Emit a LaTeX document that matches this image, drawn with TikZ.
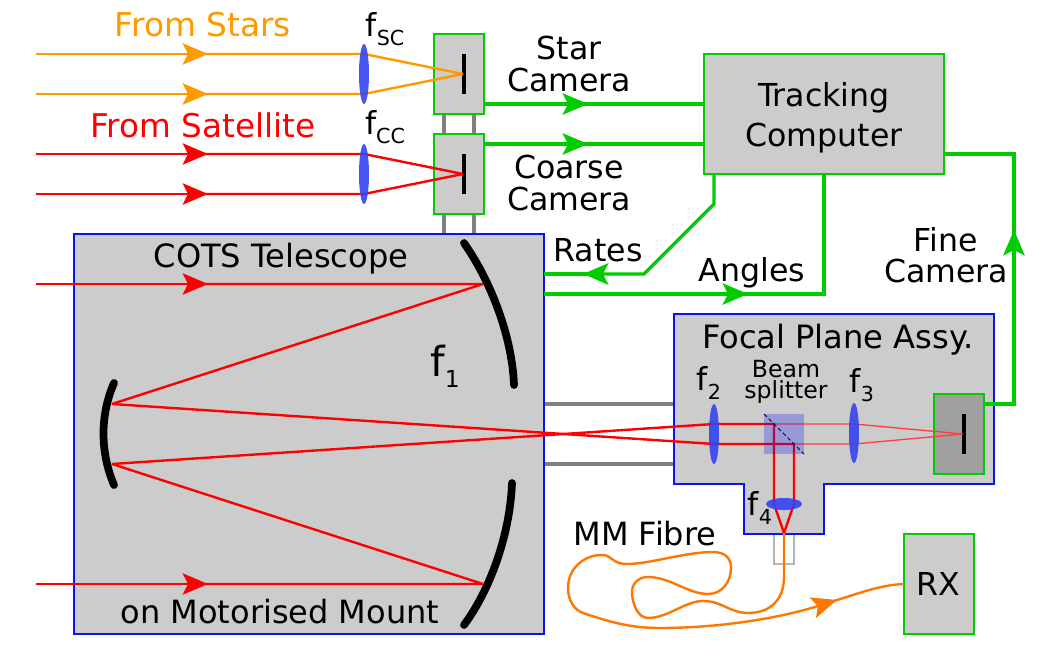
\documentclass[tikz,border=0pt]{standalone}
\usepackage{fontspec}
\setmainfont{DejaVu Sans}
\usetikzlibrary{arrows.meta}
\definecolor{gbox}{HTML}{CCCCCC}
\definecolor{gdark}{HTML}{A0A0A0}
\definecolor{gbar}{HTML}{808080}
\definecolor{grn}{HTML}{00CC00}
\definecolor{blu}{HTML}{0A14F0}
\definecolor{lensc}{HTML}{3344EE}
\definecolor{org}{HTML}{FF9900}
\definecolor{fib}{HTML}{FF7700}
\newcommand{\fsub}[1]{f\raisebox{-0.27em}{\fontsize{15.5}{15.5}\selectfont #1}}
\tikzset{
  greenbox/.style={draw=grn,fill=gbox,line width=1.9pt,inner sep=0pt,outer sep=0pt},
  bluebox/.style={draw=blu,fill=gbox,line width=1.9pt,inner sep=0pt,outer sep=0pt},
  bar/.style={gbar,line width=3pt},
  ray/.style={line width=1.8pt},
  thinray/.style={red!75,line width=1pt},
  tipp/.style={-{Stealth[length=19pt,width=16pt,inset=4pt]}},
  gline/.style={grn,line width=2.4pt,line join=miter},
  mirror/.style={black,line width=5.8pt,line cap=round},
  detector/.style={black,line width=2.6pt},
  lens/.style={fill=lensc,opacity=0.9,draw=none},
  lab/.style={font=\fontsize{23.7}{23.3}\selectfont,align=center,inner sep=0pt,text=black},
}
\begin{document}
\begin{tikzpicture}[x=0.75pt,y=-0.75pt]
\useasboundingbox (0,0) rectangle (1050,645);
% support bars
\foreach \x in {444,474}{\draw[bar] (\x,114) -- (\x,234);}
\foreach \y in {404,464}{\draw[bar] (544,\y) -- (674,\y);}
% boxes
\node[greenbox,minimum width=37.5pt,minimum height=60pt] (sc) at (459,74) {};
\node[greenbox,minimum width=37.5pt,minimum height=60pt] (cc) at (459,174) {};
\node[bluebox,minimum width=352.5pt,minimum height=300pt] (tel) at (309,434) {};
\node[greenbox,minimum width=180pt,minimum height=90pt] (tc) at (824,114) {};
\node[greenbox,minimum width=52.5pt,minimum height=75pt] (rx) at (939,584) {};
% fibre holder
\draw[gbox!70!gray,line width=1.2pt] (774,525) -- (774,564) -- (794,564) -- (794,525);
\draw[bluebox] (674,314) -- (994,314) -- (994,484) -- (824,484) -- (824,534) -- (744,534) -- (744,484) -- (674,484) -- cycle;
\node[greenbox,fill=gdark,minimum width=37.5pt,minimum height=60pt] (fc) at (959,434) {};
% detectors
\draw[detector] (464,54) -- (464,94);
\draw[detector] (464,154) -- (464,194);
\draw[detector] (964,414) -- (964,454);
% orange rays
\coordinate (fsc) at (463,74);
\coordinate (fcc) at (463,174);
\foreach \y in {54,94}{
  \draw[org,ray,tipp] (36,\y) -- (208,\y);
  \draw[org,ray] (190,\y) -- (364,\y) -- (fsc);
}
% red rays to coarse camera
\foreach \y in {154,194}{
  \draw[red,ray,tipp] (36,\y) -- (208,\y);
  \draw[red,ray] (190,\y) -- (364,\y) -- (fcc);
}
% telescope rays
\coordinate (pa) at (483,284);
\coordinate (pb) at (483,584);
\coordinate (sa) at (112,404);
\coordinate (sb) at (112,464);
\draw[red,ray,tipp] (36,284) -- (208,284);
\draw[red,ray,line join=bevel] (190,284) -- (pa) -- (sa) -- (714,444);
\draw[red,ray,tipp] (36,584) -- (208,584);
\draw[red,ray,line join=bevel] (190,584) -- (pb) -- (sb) -- (714,424);
% fibre
\coordinate (ftip) at (837,600);
\coordinate (fin) at (784,533);
\draw[fib,line width=1.8pt] (fin) -- (784,577) .. controls (784,600) and (770,613) .. (748,613)
  .. controls (730,613) and (722,601) .. (703,601)
  .. controls (685,601) and (668,618) .. (648,618)
  .. controls (638,618) and (632,604) .. (632,592)
  .. controls (632,584) and (638,577) .. (648,577)
  .. controls (670,577) and (688,594) .. (708,594)
  .. controls (722,594) and (731,582) .. (731,568)
  .. controls (731,558) and (725,552) .. (713,552)
  .. controls (685,552) and (650,564) .. (627,564)
  .. controls (612,564) and (612,555) .. (602,555)
  .. controls (582,555) and (568,570) .. (568,588)
  .. controls (568,600) and (574,610) .. (583,613)
  .. controls (610,622) and (630,628) .. (660,628);
\draw[fib,line width=1.8pt,tipp] (660,628) .. controls (720,628) and (780,618) .. (ftip);
\draw[fib,line width=1.8pt] (825,604) -- (ftip) .. controls (860,593) and (880,585) .. (rx.west |- 0,584);
% focal plane rays
\draw[red,ray] (714,424) -- (774,424) -- (774,504) -- (784,533);
\draw[red,ray] (714,444) -- (794,444) -- (794,504) -- (784,533);
\draw[thinray] (774,424) -- (854,424) -- (963,434) -- (854,444) -- (794,444);
% beam splitter
\fill[blu,opacity=0.27] (764,414) rectangle (804,454);
\draw[black!70!blue,line width=0.6pt,densely dashed] (764,414) -- (804,454);
% lenses
\fill[lens] (364,74) ellipse [x radius=5,y radius=30];
\fill[lens] (364,174) ellipse [x radius=5,y radius=30];
\fill[lens] (714,434) ellipse [x radius=5,y radius=30];
\fill[lens] (854,433) ellipse [x radius=5,y radius=30];
\fill[lens] (784,504) ellipse [x radius=18,y radius=6];
% mirrors
\draw[mirror] (464,243) .. controls (490,280) and (512,335) .. (514,385);
\draw[mirror] (512,483) .. controls (510,535) and (490,590) .. (464,625);
\draw[mirror] (114,383) .. controls (100,415) and (100,452) .. (114,485);
% control lines
\draw[gline,tipp] (sc.east |- 0,104) -- (588,104);
\draw[gline] (570,104) -- (tc.west |- 0,104);
\draw[gline,tipp] (cc.east |- 0,144) -- (588,144);
\draw[gline] (570,144) -- (tc.west |- 0,144);
\draw[gline,tipp] (714,174) -- (714,204) -- (644,274) -- (583,274);
\draw[gline] (600,274) -- (tel.east |- 0,274);
\draw[gline,tipp] (tel.east |- 0,294) -- (748,294);
\draw[gline] (730,294) -- (824,294) -- (824,174);
\draw[gline,tipp] (fc.east |- 0,404) -- (1014,404) -- (1014,230);
\draw[gline] (1014,248) -- (1014,154) -- (tc.east |- 0,154);
% labels
\node[lab,font=\fontsize{24.6}{24}\selectfont,text=org] (t1) at (203,25) {From Stars};
\node[lab,font=\fontsize{24.5}{24}\selectfont,text=red] (t2) at (203,125) {From Satellite};
\node[lab] (t3) at (385,29) {\fsub{SC}};
\node[lab] (t4) at (385,127) {\fsub{CC}};
\node[lab] (t5) at (569,64) {Star\\Camera};
\node[lab] (t6) at (569,183) {Coarse\\Camera};
\node[lab,font=\fontsize{23.7}{30}\selectfont] (t7) at (824,118) {Tracking\\Computer};
\node[lab,font=\fontsize{24.1}{24}\selectfont] (t8) at (281,259) {COTS Telescope};
\node[lab,font=\fontsize{24}{24}\selectfont] (t9) at (280,612) {on Motorised Mount};
\node[lab,font=\fontsize{31}{31}\selectfont] (t10) at (445,366) {f\raisebox{-0.27em}{\fontsize{17.5}{17.5}\selectfont 1}};
\node[lab] (t11) at (598,250) {Rates};
\node[lab] (t12) at (752,273) {Angles};
\node[lab] (t13) at (946,255) {Fine\\Camera};
\node[lab,font=\fontsize{24.1}{24}\selectfont] (t14) at (838,340) {Focal Plane Assy.};
\node[lab] (t15) at (709,383) {\fsub{2}};
\node[lab,font=\fontsize{17.7}{15.8}\selectfont] (t16) at (786,382) {Beam\\splitter};
\node[lab] (t17) at (862,385) {\fsub{3}};
\node[lab] (t18) at (760,508) {\fsub{4}};
\node[lab,font=\fontsize{24}{24}\selectfont] (t19) at (645,534) {MM Fibre};
\node[lab] (t20) at (938,584) {RX};
\end{tikzpicture}
\end{document}
